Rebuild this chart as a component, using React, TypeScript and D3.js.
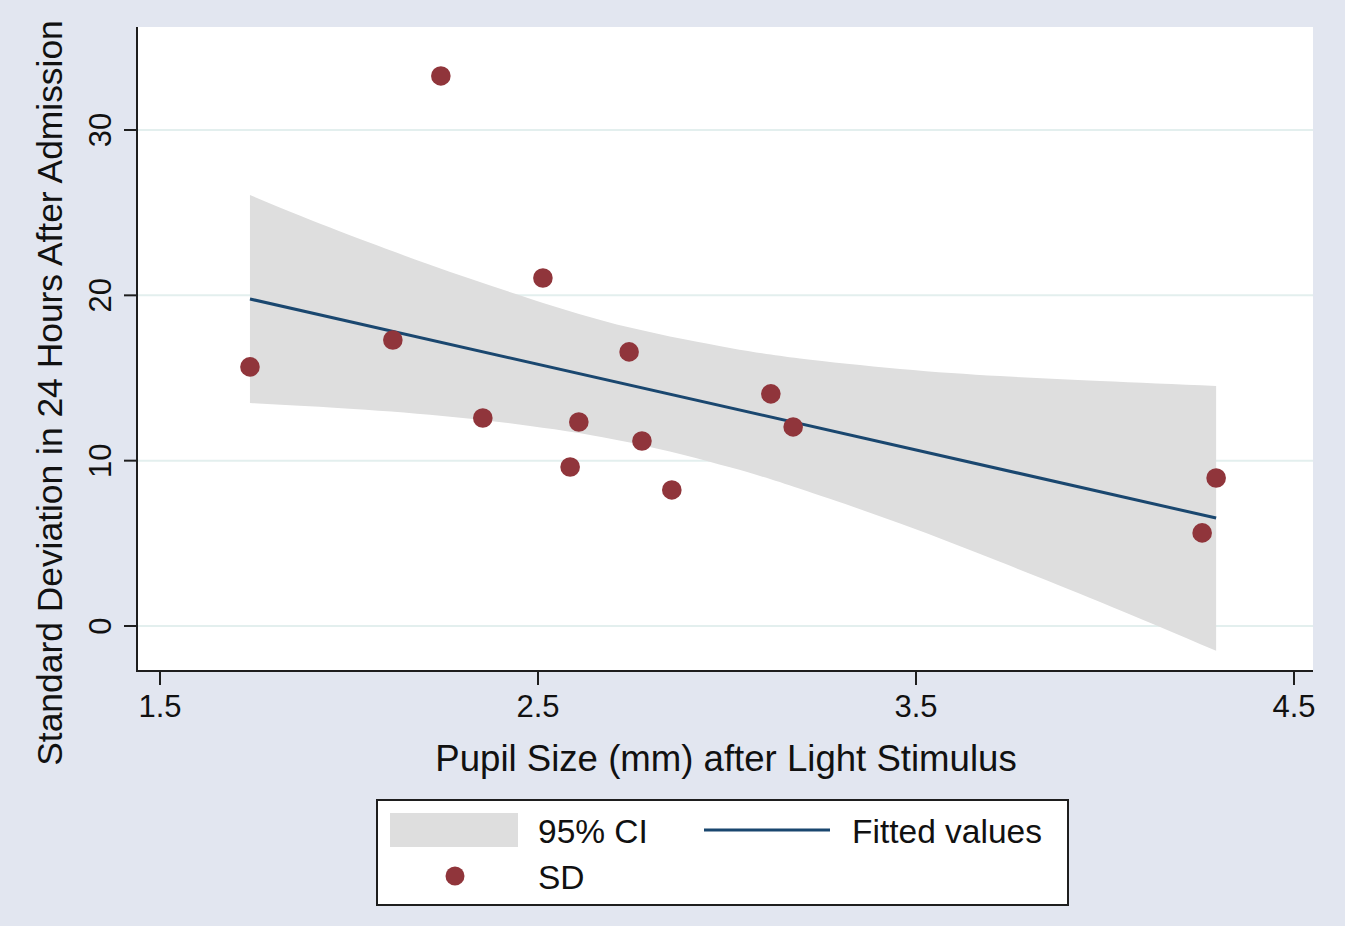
import React from "react";
import * as d3 from "d3";

// ---- data ----
const pupilSize = [1.738, 2.116, 2.243, 2.354, 2.513, 2.585, 2.608, 2.741, 2.775, 2.854, 3.116, 3.175, 4.257, 4.294];
const sdValues = [15.67, 17.3, 33.27, 12.58, 21.05, 9.62, 12.34, 16.58, 11.19, 8.23, 14.04, 12.04, 5.63, 8.95];

const fitX = [1.738, 4.294];
const fitY = [19.78, 6.53];

const ciX = [1.738, 1.95, 2.214, 2.479, 2.743, 3.008, 3.193, 3.458, 3.722, 3.987, 4.294];
const ciUpper = [26.07, 24.1, 21.85, 19.8, 18.05, 16.82, 16.18, 15.55, 15.12, 14.82, 14.52];
const ciLower = [13.49, 13.22, 12.78, 12.1, 11.1, 9.6, 8.3, 6.2, 3.88, 1.45, -1.5];

const xTicks = [1.5, 2.5, 3.5, 4.5];
const yTicks = [0, 10, 20, 30];

const xTitle = "Pupil Size (mm) after Light Stimulus";
const yTitle = "Standard Deviation in 24 Hours After Admission";
const legendLabels = ["95% CI", "Fitted values", "SD"];

const W = 1345;
const H = 926;
const FONT = "'Liberation Sans', Arial, Helvetica, sans-serif";

const BG = "#e2e6f0";
const GRID = "#e3efee";
const CI_FILL = "#dedede";
const LINE = "#1a476f";
const DOT = "#90353b";
const AXIS = "#1e1e1e";

export default function App() {
  const plot = { left: 137, right: 1313, top: 27, bottom: 671 };
  const x = d3.scaleLinear().domain([1.5, 4.5]).range([160, 1294]);
  const y = d3.scaleLinear().domain([0, 30]).range([626, 130]);

  const ciData = ciX.map((v, i) => ({ x: v, lo: ciLower[i], hi: ciUpper[i] }));
  const area = d3
    .area<{ x: number; lo: number; hi: number }>()
    .x((d) => x(d.x))
    .y0((d) => y(d.lo))
    .y1((d) => y(d.hi))
    .curve(d3.curveNatural);

  const fitData = fitX.map((v, i) => [v, fitY[i]] as [number, number]);
  const line = d3
    .line<[number, number]>()
    .x((d) => x(d[0]))
    .y((d) => y(d[1]));

  const leg = { x: 377, y: 800, w: 691, h: 105 };

  return (
    <svg
      width={W}
      height={H}
      style={{ position: "absolute", left: 0, top: 0, display: "block" }}
      fontFamily={FONT}
    >
      <rect x={0} y={0} width={W} height={H} fill={BG} />
      <rect x={plot.left} y={plot.top} width={plot.right - plot.left} height={plot.bottom - plot.top} fill="#ffffff" />

      {/* gridlines */}
      {yTicks.map((t) => (
        <line key={"g" + t} x1={plot.left} x2={plot.right} y1={y(t)} y2={y(t)} stroke={GRID} strokeWidth={2} />
      ))}

      {/* CI band */}
      <path d={area(ciData) || ""} fill={CI_FILL} />

      {/* fitted line */}
      <path d={line(fitData) || ""} fill="none" stroke={LINE} strokeWidth={3} />

      {/* points */}
      {pupilSize.map((v, i) => (
        <circle key={"p" + i} cx={x(v)} cy={y(sdValues[i])} r={9.8} fill={DOT} />
      ))}

      {/* axes */}
      <line x1={plot.left} x2={plot.left} y1={plot.top} y2={plot.bottom + 1} stroke={AXIS} strokeWidth={2} />
      <line x1={plot.left - 1} x2={plot.right} y1={plot.bottom} y2={plot.bottom} stroke={AXIS} strokeWidth={2} />

      {yTicks.map((t) => (
        <g key={"yt" + t}>
          <line x1={plot.left - 13} x2={plot.left} y1={y(t)} y2={y(t)} stroke={AXIS} strokeWidth={2} />
          <text
            transform={`translate(111,${y(t)}) rotate(-90)`}
            textAnchor="middle"
            fontSize={31}
            fill="#111"
          >
            {t}
          </text>
        </g>
      ))}

      {xTicks.map((t) => (
        <g key={"xt" + t}>
          <line x1={x(t)} x2={x(t)} y1={plot.bottom} y2={plot.bottom + 14} stroke={AXIS} strokeWidth={2} />
          <text x={x(t)} y={717} textAnchor="middle" fontSize={31} fill="#111">
            {d3.format(".1f")(t)}
          </text>
        </g>
      ))}

      {/* axis titles */}
      <text x={726} y={771} textAnchor="middle" fontSize={36.6} fill="#111">
        {xTitle}
      </text>
      <text transform={`translate(62,393) rotate(-90)`} textAnchor="middle" fontSize={35.4} fill="#111">
        {yTitle}
      </text>

      {/* legend */}
      <rect x={leg.x} y={leg.y} width={leg.w} height={leg.h} fill="#ffffff" stroke={AXIS} strokeWidth={2} />
      <rect x={390} y={813} width={128} height={34} fill={CI_FILL} />
      <text x={538} y={843} fontSize={33.5} fill="#111">
        {legendLabels[0]}
      </text>
      <line x1={704} x2={830} y1={830} y2={830} stroke={LINE} strokeWidth={3} />
      <text x={852} y={843} fontSize={33.5} fill="#111">
        {legendLabels[1]}
      </text>
      <circle cx={455} cy={876} r={9.5} fill={DOT} />
      <text x={538} y={889} fontSize={33.5} fill="#111">
        {legendLabels[2]}
      </text>
    </svg>
  );
}
